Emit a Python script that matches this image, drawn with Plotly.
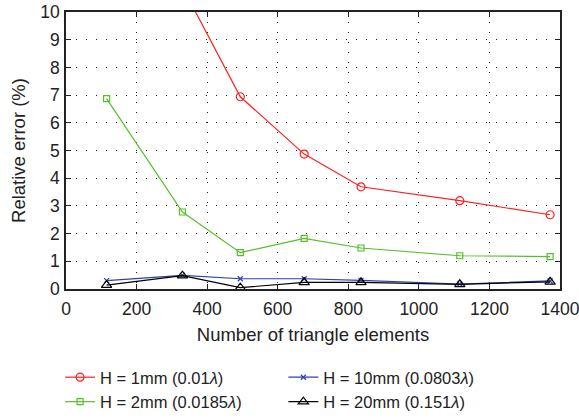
import plotly.graph_objects as go

elements = [115, 330, 494, 675, 836, 1116, 1372]
err_1mm = [None, 10.9, 6.94, 4.87, 3.69, 3.19, 2.68]
err_2mm = [6.87, 2.78, 1.31, 1.83, 1.48, 1.20, 1.17]
err_10mm = [0.30, 0.49, 0.37, 0.37, 0.31, 0.18, 0.29]
err_20mm = [0.14, 0.48, 0.05, 0.24, 0.24, 0.17, 0.26]

names = ["H = 1mm (0.01<i>λ</i>)", "H = 2mm (0.0185<i>λ</i>)",
         "H = 10mm (0.0803<i>λ</i>)", "H = 20mm (0.151<i>λ</i>)"]
series = [err_1mm, err_2mm, err_10mm, err_20mm]
colors = ["#ff2020", "#55c02a", "#2f3fae", "#000000"]
symbols = ["circle-open", "square-open", "x-thin-open", "triangle-up-open"]
sizes = [8, 6, 5, 9]
legends = ["legend", "legend", "legend2", "legend2"]

fig = go.Figure()
for n, s, c, sym, sz, lg in zip(names, series, colors, symbols, sizes, legends):
    x = [e for e, v in zip(elements, s) if v is not None]
    y = [v for v in s if v is not None]
    fig.add_trace(go.Scatter(x=x, y=y, name=n, mode="lines+markers", legend=lg,
                             line=dict(color=c, width=1.2),
                             marker=dict(symbol=sym, size=sz, color=c,
                                         line=dict(color=c, width=1.2))))

FAM = "Liberation Sans, Arial, sans-serif"
tickfont = dict(family=FAM, size=17.5, color="#222")
font = dict(family=FAM, size=18.5, color="#222")
legfont = dict(family=FAM, size=16.5, color="#222")
axis_common = dict(showline=True, linecolor="#222", linewidth=1.5, mirror="ticks",
                   ticks="inside", ticklen=5, tickcolor="#222", automargin=False,
                   showgrid=True, gridcolor="#222", griddash="1px,9px", gridwidth=1,
                   zeroline=False, tickfont=tickfont, ticklabeloverflow="allow")
leg_common = dict(orientation="v", yanchor="bottom", y=-0.4498, xanchor="left",
                  font=legfont, tracegroupgap=0, itemwidth=30, borderwidth=0,
                  bgcolor="rgba(0,0,0,0)")
fig.update_layout(
    width=579, height=419,
    margin=dict(l=66, r=19, t=0, b=130),
    plot_bgcolor="white", paper_bgcolor="white",
    font=font,
    xaxis=dict(range=[0, 1400], dtick=200, ticklabelstandoff=3,
               title=dict(text="Number of triangle elements", font=font, standoff=10),
               **axis_common),
    yaxis=dict(range=[0, 10], dtick=1, ticklabelstandoff=1, domain=[0, 277 / 289],
               title=dict(text="Relative error (%)", font=font, standoff=10),
               **axis_common),
    legend=dict(x=-0.012, **leg_common),
    legend2=dict(x=0.44, **leg_common),
    showlegend=True,
)
fig.write_html("out.html", config={"displayModeBar": False},
               post_script="document.body.style.margin='0px';")
